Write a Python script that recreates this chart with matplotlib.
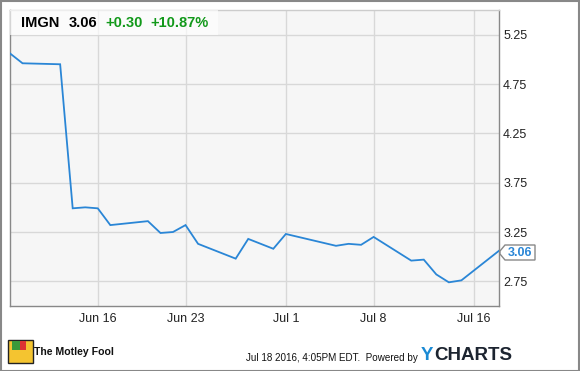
import matplotlib
matplotlib.use("Agg")
import matplotlib.pyplot as plt
import matplotlib.dates as mdates
from matplotlib.patches import Rectangle, Polygon
from matplotlib import font_manager
import datetime as dt

plt.rcParams['font.family'] = ['Liberation Sans', 'DejaVu Sans']
_names = {f.name for f in font_manager.fontManager.ttflist}
NARROW = 'Liberation Sans Narrow' if 'Liberation Sans Narrow' in _names else None

# ---- data ----
dates = ["2016-06-09", "2016-06-10", "2016-06-13", "2016-06-14", "2016-06-15",
         "2016-06-16", "2016-06-17", "2016-06-20", "2016-06-21", "2016-06-22",
         "2016-06-23", "2016-06-24", "2016-06-27", "2016-06-28", "2016-06-30",
         "2016-07-01", "2016-07-05", "2016-07-06", "2016-07-07", "2016-07-08",
         "2016-07-11", "2016-07-12", "2016-07-13", "2016-07-14", "2016-07-15",
         "2016-07-18"]
prices = [5.06, 4.96, 4.95, 3.49, 3.50,
          3.49, 3.32, 3.36, 3.24, 3.25,
          3.32, 3.13, 2.98, 3.18, 3.08,
          3.23, 3.11, 3.13, 3.12, 3.20,
          2.96, 2.97, 2.82, 2.74, 2.76,
          3.06]
y_ticks = [2.75, 3.25, 3.75, 4.25, 4.75, 5.25]
x_tick_dates = ["2016-06-16", "2016-06-23", "2016-07-01", "2016-07-08", "2016-07-16"]
x_tick_labels = ["Jun 16", "Jun 23", "Jul 1", "Jul 8", "Jul 16"]
ticker = "IMGN"
last_price = "3.06"
change = "+0.30"
pct_change = "+10.87%"

W, H = 580, 371
fig = plt.figure(figsize=(W / 100, H / 100), dpi=100)
fig.patch.set_facecolor("white")

def fx(x):
    return x / W

def fy(y):
    return 1 - y / H

# plot area in pixels
L, R, T, B = 10, 499, 10, 306
ax = fig.add_axes([fx(L), fy(B), (R - L) / W, (B - T) / H])
ax.set_facecolor("#f6f6f6")

xd = [mdates.date2num(dt.datetime.strptime(d, "%Y-%m-%d")) for d in dates]
xt = [mdates.date2num(dt.datetime.strptime(d, "%Y-%m-%d")) for d in x_tick_dates]

ax.plot(xd, prices, color="#2a86d6", lw=1.3, solid_joinstyle="miter", zorder=3)

ax.set_xlim(mdates.date2num(dt.datetime(2016, 6, 9)), mdates.date2num(dt.datetime(2016, 7, 18)))
ax.set_ylim(2.5, 5.5)
ax.set_xticks(xt)
ax.set_xticklabels(x_tick_labels)
ax.set_yticks(y_ticks)
ax.set_yticklabels([f"{v:.2f}" for v in y_ticks])
ax.yaxis.tick_right()
ax.tick_params(axis="both", length=0, labelsize=9, colors="#222222")
ax.tick_params(axis="y", pad=3)
ax.tick_params(axis="x", pad=5)
ax.grid(True, color="#d8d8d8", lw=1.0, zorder=0)
ax.set_axisbelow(True)
for s in ["left", "bottom", "right"]:
    ax.spines[s].set_color("#888888")
    ax.spines[s].set_linewidth(1.0)
ax.spines["top"].set_color("#cccccc")
ax.spines["top"].set_linewidth(1.0)

# header box
ax.add_patch(Rectangle((fx(L), fy(35)), fx(218) - fx(L), fy(T) - fy(35),
                       transform=fig.transFigure, facecolor="white", alpha=0.65,
                       edgecolor="none", zorder=4))
fig.text(fx(21), fy(23), ticker, fontsize=10.5, fontweight="bold", color="black", va="center")
fig.text(fx(69), fy(23), last_price, fontsize=10.5, fontweight="bold", color="black", va="center")
fig.text(fx(105), fy(23), change, fontsize=10.5, fontweight="bold", color="#12991a", va="center")
fig.text(fx(150), fy(23), pct_change, fontsize=10.5, fontweight="bold", color="#12991a", va="center")

# last value tag
tag = Polygon([[fx(500), fy(251)], [fx(505), fy(245)], [fx(535), fy(245)],
               [fx(535), fy(260)], [fx(505), fy(260)], [fx(500), fy(254)]],
              closed=True, transform=fig.transFigure, facecolor="white",
              edgecolor="#888888", lw=1.0)
fig.patches.append(tag)
fig.text(fx(520), fy(252.5), last_price, fontsize=9, fontweight="bold", color="#2a86d6",
         ha="center", va="center")

# footer: logo
fig.patches.append(Rectangle((fx(8), fy(363)), fx(33) - fx(8), fy(340) - fy(363),
                             transform=fig.transFigure, facecolor="#f4c430",
                             edgecolor="#222222", lw=1.0))
fig.patches.append(Rectangle((fx(12), fy(350)), fx(20) - fx(12), fy(341) - fy(350),
                             transform=fig.transFigure, facecolor="#3a9a3a", edgecolor="none"))
fig.patches.append(Rectangle((fx(20), fy(350)), fx(26) - fx(20), fy(341) - fy(350),
                             transform=fig.transFigure, facecolor="#d33", edgecolor="none"))

renderer = fig.canvas.get_renderer()

def fit_text(x, y, s, target_w, size, **kw):
    fam = kw.pop("family", None)
    t = fig.text(fx(x), fy(y), s, fontsize=size, va="center", **kw)
    if fam:
        t.set_family([fam, 'Liberation Sans', 'DejaVu Sans'])
    w = t.get_window_extent(renderer).width
    if w > 0:
        t.set_fontsize(size * target_w / w)
    return t

fit_text(34, 352, "The Motley Fool", 80, 9, family=NARROW, fontweight="bold", color="#111111")
fit_text(246, 358, "Jul 18 2016, 4:05PM EDT.  Powered by", 172, 9, family=NARROW, color="#111111")

ty = fig.text(fx(421), fy(355), "Y", fontsize=14, fontweight="bold", color="#1a8ad4", va="center")
wy = ty.get_window_extent(renderer).width
tc = fig.text(fx(421) + (wy + 1) / W, fy(355), "CHARTS", fontsize=14, fontweight="bold",
              color="#1c2430", va="center")
wc = tc.get_window_extent(renderer).width
scale = 92 / (wy + 1 + wc)
ty.set_fontsize(14 * scale)
tc.set_fontsize(14 * scale)
tc.set_x(fx(421) + (wy * scale + 0.5) / W)

# outer border
fig.patches.append(Rectangle((0.5 / W, 0.5 / H), 1 - 1.5 / W, 1 - 1.5 / H,
                             transform=fig.transFigure, facecolor="none",
                             edgecolor="#888888", lw=1.5))

fig.savefig("out.png", dpi=100)
